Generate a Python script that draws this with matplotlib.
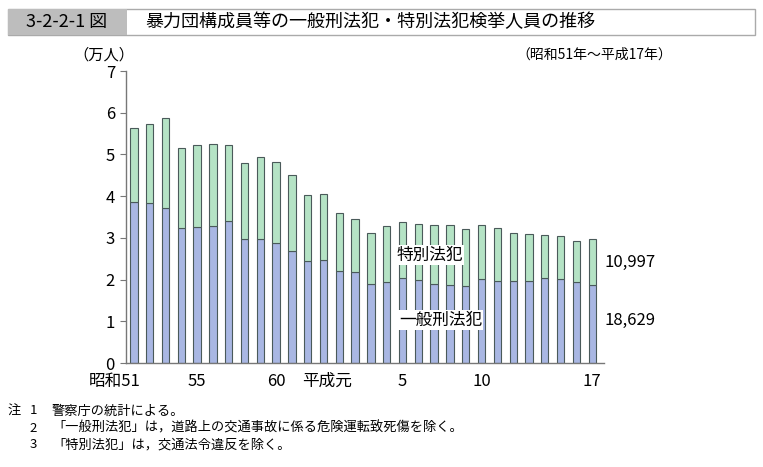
import matplotlib.pyplot as plt
from matplotlib.patches import Rectangle

plt.rcParams['font.family'] = ['Noto Sans CJK JP', 'DejaVu Sans']

# data (unit: 10,000 persons), 昭和51 (1976) .. 平成17 (2005)
years = list(range(1976, 2006))
general = [3.85, 3.83, 3.72, 3.23, 3.27, 3.29, 3.40, 2.97, 2.98, 2.87,
           2.68, 2.45, 2.46, 2.21, 2.17, 1.89, 1.94, 2.03, 1.99, 1.89,
           1.88, 1.85, 2.01, 1.96, 1.96, 1.96, 2.03, 2.02, 1.94, 1.8629]
total = [5.64, 5.74, 5.88, 5.15, 5.22, 5.26, 5.23, 4.80, 4.95, 4.82,
         4.51, 4.02, 4.05, 3.60, 3.45, 3.12, 3.29, 3.39, 3.34, 3.30,
         3.32, 3.21, 3.30, 3.24, 3.11, 3.10, 3.08, 3.05, 2.93, 2.9626]
special = [t - g for t, g in zip(total, general)]
tick_years = [1976, 1980, 1985, 1989, 1993, 1998, 2005]
tick_labels = ['昭和51', '55', '60', '平成元', '5', '10', '17']
last_general = '18,629'
last_special = '10,997'

blue = '#a9b7e3'
green = '#b5e3c5'
edge = '#4a5a5a'

fig = plt.figure(figsize=(7.63, 4.67), dpi=100)
ax = fig.add_axes([126 / 763, 1 - 363 / 467, (604 - 126) / 763, (363 - 71) / 467])

x = [y - years[0] for y in years]
ax.bar(x, general, width=0.46, color=blue, edgecolor=edge, linewidth=0.8)
ax.bar(x, special, bottom=general, width=0.46, color=green, edgecolor=edge, linewidth=0.8)

ax.set_ylim(0, 7)
ax.set_xlim(-0.5, 29.75)
ax.set_yticks(range(8))
ax.tick_params(axis='y', length=4, color='#777777', labelsize=12, pad=4)
ax.set_xticks([])
for s in ['top', 'right']:
    ax.spines[s].set_visible(False)
for s in ['left', 'bottom']:
    ax.spines[s].set_color('#777777')
    ax.spines[s].set_linewidth(1.0)

# x labels (era years), drawn as text so a couple can be nudged like the original
xt = ax.get_xaxis_transform()
for yr, lab in zip(tick_years, tick_labels):
    pos = yr - years[0]
    ha = 'center'
    if lab == '昭和51':
        pos, ha = pos + 0.45, 'right'
    elif lab == '平成元':
        pos = pos - 0.8
    ax.text(pos, -0.062, lab, transform=xt, fontsize=12, ha=ha, va='center')

# labels inside
ax.text(18.7, 2.59, '特別法犯', fontsize=12, ha='center', va='center',
        bbox=dict(facecolor='white', edgecolor='none', pad=1))
ax.text(19.4, 1.03, '一般刑法犯', fontsize=12, ha='center', va='center',
        bbox=dict(facecolor='white', edgecolor='none', pad=1))
ax.text(29.75, general[-1] + special[-1] / 2, last_special, fontsize=12, ha='left', va='center')
ax.text(29.75, 1.03, last_general, fontsize=12, ha='left', va='center')

fig.text(104 / 763, 1 - 55 / 467, '（万人）', fontsize=11, ha='center', va='center')
fig.text(672 / 763, 1 - 55 / 467, '（昭和51年～平成17年）', fontsize=10, ha='right', va='center')

# header box
fig.patches.append(Rectangle((8 / 763, 1 - 35 / 467), (755 - 8) / 763, 26 / 467,
                             transform=fig.transFigure, facecolor='white',
                             edgecolor='#aaaaaa', linewidth=1))
fig.patches.append(Rectangle((8 / 763, 1 - 35 / 467), (127 - 8) / 763, 26 / 467,
                             transform=fig.transFigure, facecolor='#bdbdbd',
                             edgecolor='none'))
fig.text(67 / 763, 1 - 22 / 467, '3-2-2-1 図', fontsize=13, ha='center', va='center')
fig.text(145 / 763, 1 - 22 / 467, '暴力団構成員等の一般刑法犯・特別法犯検挙人員の推移',
         fontsize=13, ha='left', va='center')

# notes
note_nums = ['1', '2', '3']
note_texts = ['警察庁の統計による。',
              '「一般刑法犯」は，道路上の交通事故に係る危険運転致死傷を除く。',
              '「特別法犯」は，交通法令違反を除く。']
fig.text(8 / 763, 1 - 411 / 467, '注', fontsize=9.5, ha='left', va='center')
for i, (num, txt) in enumerate(zip(note_nums, note_texts)):
    yy = 1 - (411 + i * 17) / 467
    fig.text(33 / 763, yy, num, fontsize=9.5, ha='center', va='center')
    fig.text(52 / 763, yy, txt, fontsize=9.5, ha='left', va='center')

fig.savefig('out.png', dpi=100)
